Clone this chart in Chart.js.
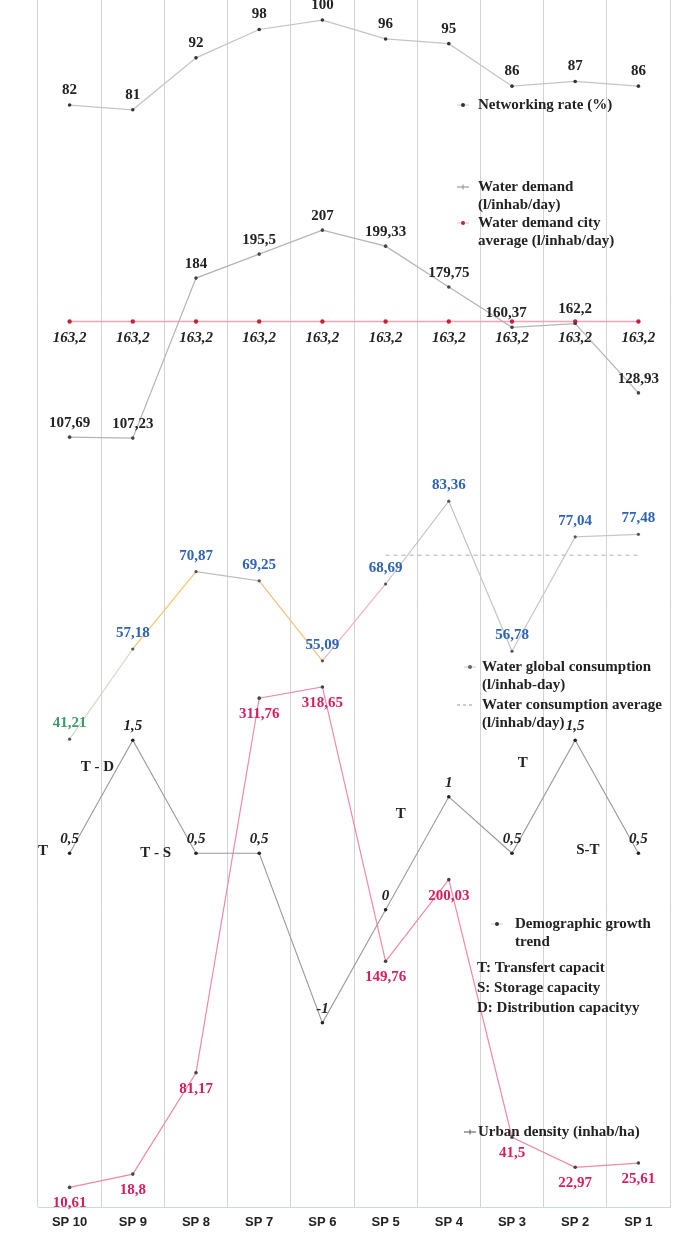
<!DOCTYPE html>
<html>
<head>
<meta charset="utf-8">
<title>SP indicators</title>
<script src="https://cdn.jsdelivr.net/npm/chart.js@4.4.1/dist/chart.umd.min.js"></script>
<style>
  html, body { margin: 0; padding: 0; background: #fff; }
  #chart { display: block; }
</style>
</head>
<body>
<canvas id="chart" width="692" height="1242"></canvas>
<script>
// Sectors, read from left to right
const categories = ['SP 10', 'SP 9', 'SP 8', 'SP 7', 'SP 6', 'SP 5', 'SP 4', 'SP 3', 'SP 2', 'SP 1'];

// Series values
const networkingRate = [82, 81, 92, 98, 100, 96, 95, 86, 87, 86];
const waterDemand = [107.69, 107.23, 184, 195.5, 207, 199.33, 179.75, 160.37, 162.2, 128.93];
const waterDemandCityAvg = [163.2, 163.2, 163.2, 163.2, 163.2, 163.2, 163.2, 163.2, 163.2, 163.2];
const waterConsumption = [41.21, 57.18, 70.87, 69.25, 55.09, 68.69, 83.36, 56.78, 77.04, 77.48];
const waterConsumptionAvg = [null, null, null, null, null, 73.8, 73.8, 73.8, 73.8, 73.8];
const demographicGrowth = [0.5, 1.5, 0.5, 0.5, -1, 0, 1, 0.5, 1.5, 0.5];
const urbanDensity = [10.61, 18.8, 81.17, 311.76, 318.65, 149.76, 200.03, 41.5, 22.97, 25.61];

// capacity notes written next to the demographic curve
const capacityNotes = ['T', 'T - D', 'T - S', 'T', 'T', 'S-T'];

// where each note sits: category index and value on the demographic axis
const notePlacement = [
  { at: -0.42, v: 0.52 },
  { at: 0.44, v: 1.26 },
  { at: 1.36, v: 0.5 },
  { at: 5.24, v: 0.85 },
  { at: 7.17, v: 1.3 },
  { at: 8.2, v: 0.53 }
];

const SERIF = '"Liberation Serif", "DejaVu Serif", serif';

function fmt(v) {
  return String(v).replace('.', ',');
}

// numbers next to each point
const valueLabels = {
  id: 'valueLabels',
  afterDatasetsDraw(chart) {
    const ctx = chart.ctx;
    chart.data.datasets.forEach((ds, i) => {
      const st = ds.valueLabel;
      if (!st) return;
      const meta = chart.getDatasetMeta(i);
      ctx.save();
      ctx.font = st.font;
      ctx.textAlign = 'center';
      ctx.textBaseline = 'middle';
      meta.data.forEach((pt, j) => {
        const v = ds.data[j];
        if (v === null || v === undefined) return;
        ctx.fillStyle = st.colors ? st.colors[j] : st.color;
        const dx = st.dx ? st.dx[j] : 0;
        ctx.fillText(fmt(v), pt.x + dx, pt.y + st.dy);
      });
      ctx.restore();
    });
  }
};

// T / S / D letters
const notesPlugin = {
  id: 'notesPlugin',
  afterDatasetsDraw(chart) {
    const ctx = chart.ctx;
    const x = chart.scales.x, y = chart.scales.yGrow;
    ctx.save();
    ctx.font = 'bold 15px ' + SERIF;
    ctx.fillStyle = '#222';
    ctx.textAlign = 'center';
    ctx.textBaseline = 'middle';
    capacityNotes.forEach((txt, i) => {
      const p = notePlacement[i];
      ctx.fillText(txt, x.getPixelForValue(p.at), y.getPixelForValue(p.v));
    });
    ctx.restore();
  }
};

// legend blocks scattered over the plot, as in the figure
const legendBlocks = [
  { mx: 463, my: 105, marker: 'dot', color: '#333', tx: 478, lines: ['Networking rate (%)'] },
  { mx: 463, my: 187, marker: 'plus', color: '#888', tx: 478, lines: ['Water demand', '(l/inhab/day)'] },
  { mx: 463, my: 223, marker: 'dot', color: '#c8203c', tx: 478, lines: ['Water demand city', 'average (l/inhab/day)'] },
  { mx: 470, my: 667, marker: 'dot', color: '#666', tx: 482, lines: ['Water global consumption', '(l/inhab-day)'] },
  { mx: 465, my: 705, marker: 'dash', color: '#999', tx: 482, lines: ['Water consumption average', '(l/inhab/day)'] },
  { mx: 497, my: 924, marker: 'dot', color: '#333', tx: 515, lines: ['Demographic growth', 'trend'] },
  { tx: 477, my: 968, lines: ['T: Transfert capacit', 'S: Storage capacity', 'D: Distribution capacityy'], step: 20 },
  { mx: 470, my: 1132, marker: 'plus', color: '#555', tx: 478, lines: ['Urban density (inhab/ha)'] }
];

const legendPlugin = {
  id: 'legendPlugin',
  afterDraw(chart) {
    const ctx = chart.ctx;
    ctx.save();
    legendBlocks.forEach(b => {
      if (b.marker) {
        ctx.strokeStyle = b.color;
        ctx.fillStyle = b.color;
        ctx.lineWidth = 1;
        if (b.marker === 'dot') {
          ctx.beginPath();
          ctx.moveTo(b.mx - 6, b.my); ctx.lineTo(b.mx + 6, b.my);
          ctx.strokeStyle = '#ccc';
          ctx.stroke();
          ctx.beginPath();
          ctx.arc(b.mx, b.my, 2, 0, Math.PI * 2);
          ctx.fill();
        } else if (b.marker === 'plus') {
          ctx.beginPath();
          ctx.moveTo(b.mx - 6, b.my); ctx.lineTo(b.mx + 6, b.my);
          ctx.moveTo(b.mx, b.my - 2.5); ctx.lineTo(b.mx, b.my + 2.5);
          ctx.stroke();
        } else if (b.marker === 'dash') {
          ctx.setLineDash([3, 3]);
          ctx.beginPath();
          ctx.moveTo(b.mx - 8, b.my); ctx.lineTo(b.mx + 8, b.my);
          ctx.stroke();
          ctx.setLineDash([]);
        }
      }
      ctx.font = 'bold 15px ' + SERIF;
      ctx.fillStyle = '#222';
      ctx.textAlign = 'left';
      ctx.textBaseline = 'middle';
      b.lines.forEach((l, k) => ctx.fillText(l, b.tx, b.my + k * (b.step || 18)));
    });
    ctx.restore();
  }
};

// colours of the consumption line pieces
const consSegColors = ['#c9dcc0', '#f2c56e', '#bfbfbf', '#f0c27a', '#f3b0c0', '#bfc4cc', '#bfc4cc', '#c4c8cc', '#c4c8cc'];

const hiddenAxis = (min, max) => ({ type: 'linear', display: false, min: min, max: max });

new Chart(document.getElementById('chart').getContext('2d'), {
  type: 'line',
  data: {
    labels: categories,
    datasets: [
      {
        label: 'Networking rate (%)',
        data: networkingRate,
        yAxisID: 'yNet',
        borderColor: '#c4c4c4',
        borderWidth: 1.2,
        pointRadius: 1.8,
        pointBackgroundColor: '#333',
        pointBorderWidth: 0,
        valueLabel: { font: 'bold 15px ' + SERIF, color: '#222', dy: -15 }
      },
      {
        label: 'Water demand (l/inhab/day)',
        data: waterDemand,
        yAxisID: 'yDem',
        borderColor: '#b4b4b4',
        borderWidth: 1.2,
        pointRadius: 1.8,
        pointBackgroundColor: '#444',
        pointBorderWidth: 0,
        valueLabel: { font: 'bold 15px ' + SERIF, color: '#222', dy: -14, dx: [0, 0, 0, 0, 0, 0, 0, -6, 0, 0] }
      },
      {
        label: 'Water demand city average (l/inhab/day)',
        data: waterDemandCityAvg,
        yAxisID: 'yDem',
        borderColor: '#f4a3b4',
        borderWidth: 1.5,
        pointRadius: 2.2,
        pointBackgroundColor: '#c8203c',
        pointBorderWidth: 0,
        valueLabel: { font: 'italic bold 15px ' + SERIF, color: '#222', dy: 17 }
      },
      {
        label: 'Water global consumption (l/inhab-day)',
        data: waterConsumption,
        yAxisID: 'yCons',
        borderColor: '#c4c8cc',
        borderWidth: 1.2,
        pointRadius: 1.6,
        pointBackgroundColor: '#555',
        pointBorderWidth: 0,
        segment: { borderColor: c => consSegColors[c.p0DataIndex] },
        valueLabel: {
          font: 'bold 15px ' + SERIF, dy: -16,
          colors: ['#3c9a6c', '#2f63b8', '#2f63b8', '#2f63b8', '#2f63b8', '#2f63b8', '#2f63b8', '#2f63b8', '#2f63b8', '#2f63b8']
        }
      },
      {
        label: 'Water consumption average (l/inhab/day)',
        data: waterConsumptionAvg,
        yAxisID: 'yCons',
        borderColor: '#a9a9a9',
        borderWidth: 1,
        borderDash: [4, 4],
        pointRadius: 0
      },
      {
        label: 'Demographic growth trend',
        data: demographicGrowth,
        yAxisID: 'yGrow',
        borderColor: '#9a9a9a',
        borderWidth: 1.1,
        pointRadius: 1.8,
        pointBackgroundColor: '#222',
        pointBorderWidth: 0,
        valueLabel: { font: 'italic bold 15px ' + SERIF, color: '#222', dy: -14 }
      },
      {
        label: 'Urban density (inhab/ha)',
        data: urbanDensity,
        yAxisID: 'yDens',
        borderColor: '#f08aa6',
        borderWidth: 1.2,
        pointRadius: 1.8,
        pointBackgroundColor: '#444',
        pointBorderWidth: 0,
        valueLabel: { font: 'bold 15px ' + SERIF, color: '#d81e5b', dy: 16 }
      }
    ]
  },
  options: {
    responsive: false,
    animation: false,
    layout: { autoPadding: false, padding: { left: 38, right: 22, top: 0, bottom: 5 } },
    plugins: {
      legend: { display: false },
      tooltip: { enabled: false }
    },
    scales: {
      x: {
        offset: true,
        grid: { offset: true, color: '#d3d3d3', lineWidth: 1, drawTicks: false },
        border: { display: true, color: '#cfd8d6' },
        ticks: {
          padding: 7,
          color: '#222',
          font: { family: '"Liberation Sans", Arial, sans-serif', size: 13, weight: 'bold' }
        }
      },
      yNet: hiddenAxis(-151.5, 104.25),
      yDem: hiddenAxis(-261.8, 317.4),
      yCons: hiddenAxis(-41.7, 172.1),
      yGrow: hiddenAxis(-2.633, 8.049),
      yDens: hiddenAxis(-1.7, 741.5)
    }
  },
  plugins: [valueLabels, notesPlugin, legendPlugin]
});
</script>
</body>
</html>
